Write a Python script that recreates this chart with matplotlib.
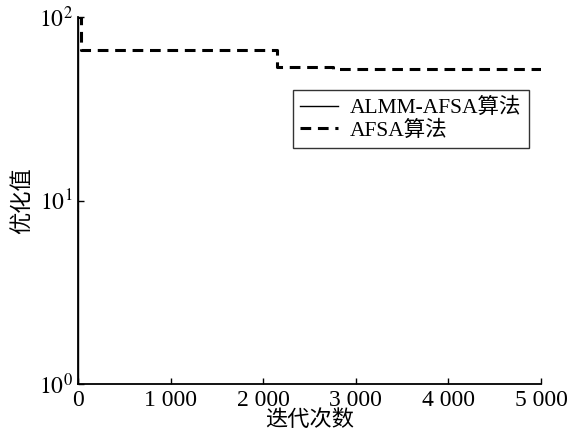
import matplotlib
matplotlib.use("Agg")
import matplotlib.pyplot as plt
from matplotlib.ticker import FixedLocator, NullLocator

plt.rcParams['font.family'] = ['Liberation Serif', 'Noto Sans CJK SC']
plt.rcParams['mathtext.fontset'] = 'stix'

# step data
afsa_x = [0, 30, 30, 2150, 2150, 2750, 2750, 5000]
afsa_y = [100, 100, 66, 66, 53.5, 53.5, 52.3, 52.3]
almm_x = [0, 0, 5000]
almm_y = [100, 0.5, 0.5]

xticks = [0, 1000, 2000, 3000, 4000, 5000]
xlabels = ['0', '1 000', '2 000', '3 000', '4 000', '5 000']
yticks = [1, 10, 100]
ylabels = ['$10^0$', '$10^1$', '$10^2$']

fig = plt.figure(figsize=(5.71, 4.33), dpi=100)
ax = fig.add_axes([0.1366, 0.1132, 0.8109, 0.8475])

ax.plot(almm_x, almm_y, color='black', lw=1.0, label='ALMM-AFSA算法')
ax.plot(afsa_x, afsa_y, color='black', lw=2.2, ls=(0, (3.5, 2.2)), label='AFSA算法')

ax.set_yscale('log')
ax.set_xlim(0, 5000)
ax.set_ylim(1, 100)
ax.set_xticks(xticks)
ax.set_xticklabels(xlabels)
ax.yaxis.set_major_locator(FixedLocator(yticks))
ax.set_yticklabels(ylabels)
ax.yaxis.set_minor_locator(NullLocator())
ax.tick_params(direction='in', length=4, width=1, labelsize=17, pad=4)
ax.spines['top'].set_visible(False)
ax.spines['right'].set_visible(False)
ax.spines['left'].set_linewidth(1.3)
ax.spines['bottom'].set_linewidth(1.3)

ax.set_xlabel('迭代次数', fontsize=16, labelpad=0)
ax.set_ylabel('优化值', fontsize=16, labelpad=4)

leg = ax.legend(loc='upper left', bbox_to_anchor=(0.464, 0.80), fontsize=15.5,
                frameon=True, fancybox=False, edgecolor='black', borderaxespad=0,
                handlelength=1.75, borderpad=0.35, labelspacing=0.1, handletextpad=0.55)
leg.get_frame().set_linewidth(1.0)

fig.savefig('out.png', dpi=100)
